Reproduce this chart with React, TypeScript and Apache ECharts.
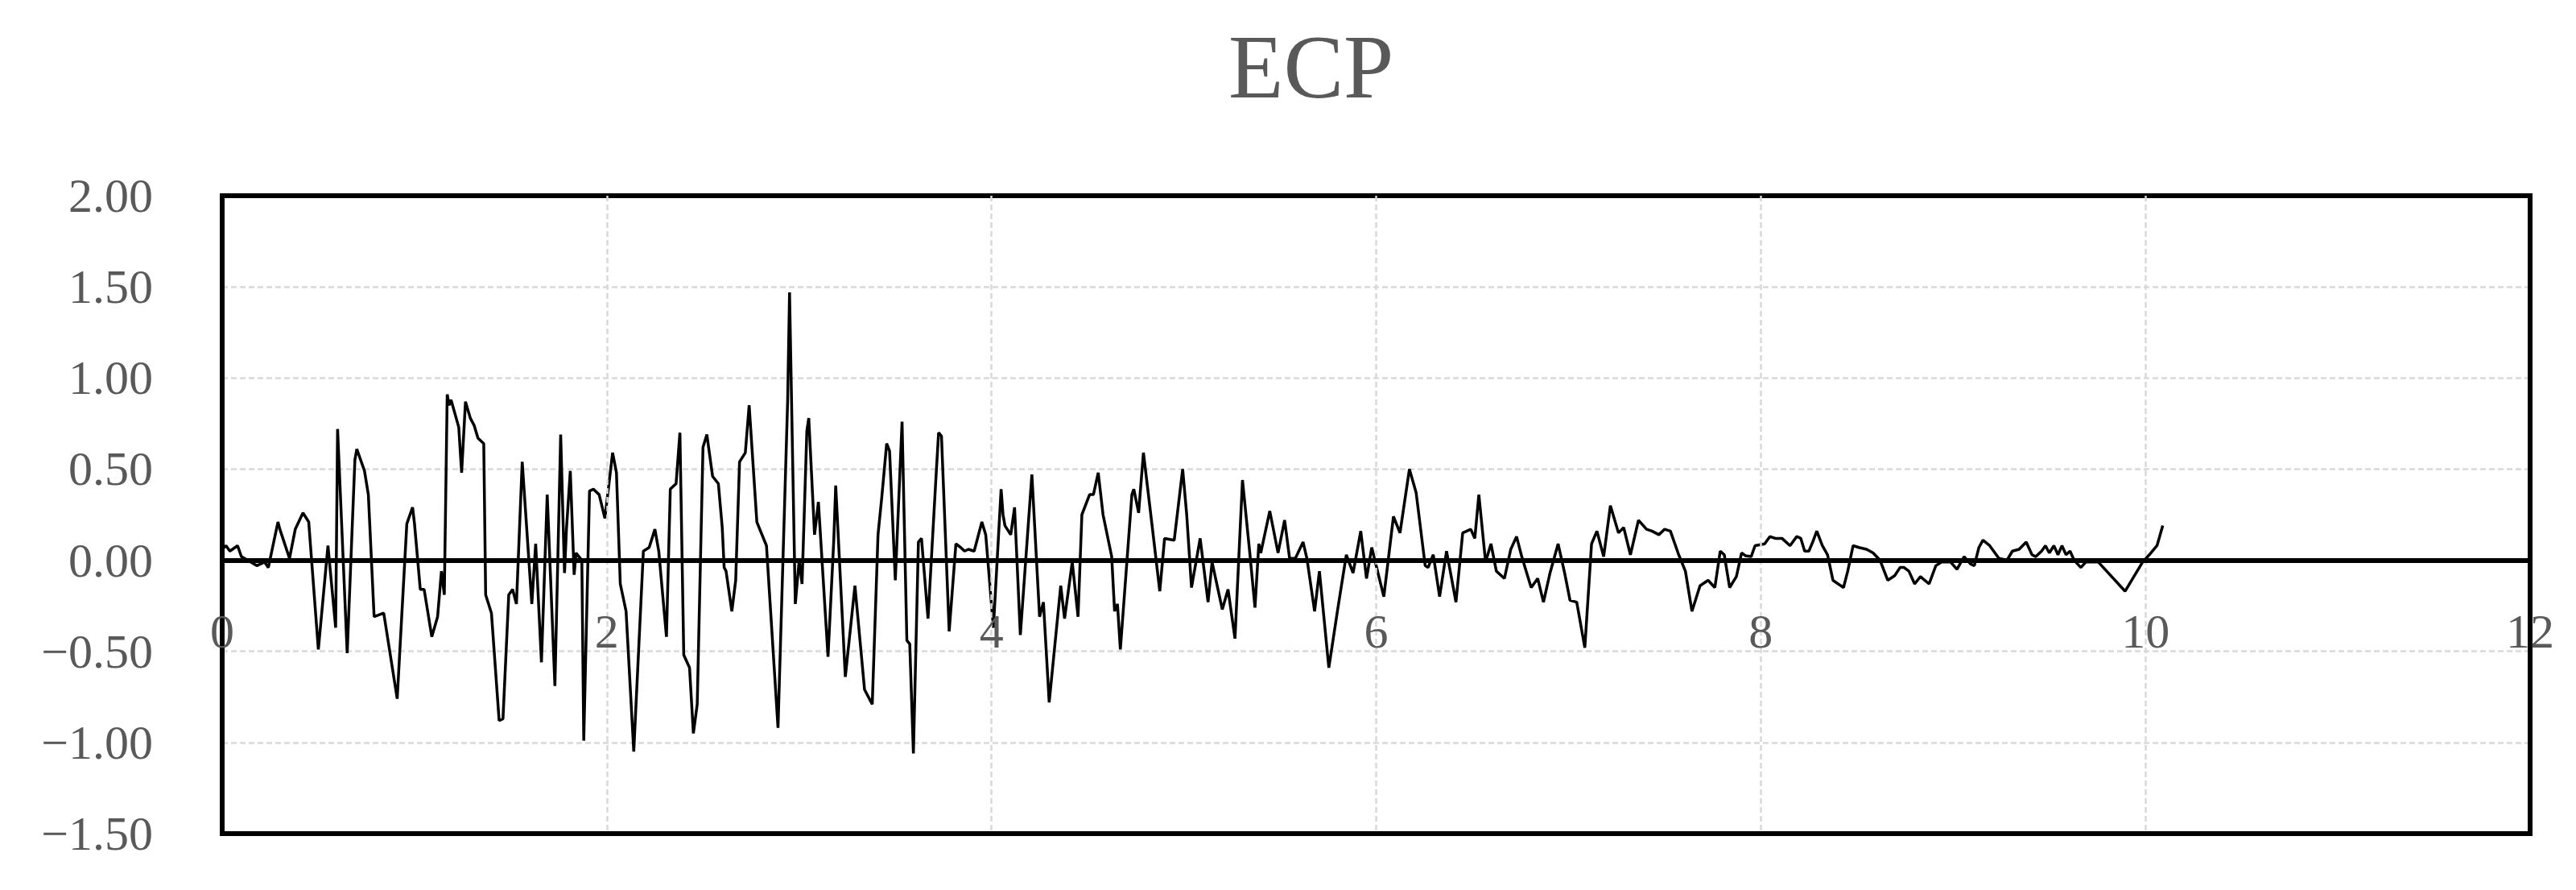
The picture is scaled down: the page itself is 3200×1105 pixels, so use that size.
import React, { useEffect, useRef } from "react";
import * as echarts from "echarts";

const chartTitle = "ECP";
const xTicks = [0, 2, 4, 6, 8, 10, 12];
const yTicks = [-1.5, -1.0, -0.5, 0.0, 0.5, 1.0, 1.5, 2.0];

const times: number[] = [
  0.0, 0.02, 0.04, 0.08, 0.1, 0.18, 0.22, 0.24, 0.29, 0.3, 0.35, 0.38, 0.42, 0.45, 0.5, 0.55, 0.59, 0.6, 0.65, 0.69,
  0.7, 0.74, 0.76, 0.79, 0.84, 0.91, 0.96, 0.99, 1.0, 1.03, 1.05, 1.09, 1.12, 1.14, 1.155, 1.17, 1.18, 1.19, 1.23, 1.245,
  1.265, 1.29, 1.31, 1.33, 1.36, 1.37, 1.4, 1.44, 1.46, 1.49, 1.51, 1.53, 1.56, 1.61, 1.63, 1.66, 1.69, 1.73, 1.76, 1.78,
  1.79, 1.81, 1.83, 1.84, 1.87, 1.88, 1.91, 1.93, 1.96, 1.99, 2.03, 2.05, 2.07, 2.1, 2.14, 2.19, 2.22, 2.25, 2.27, 2.31,
  2.33, 2.36, 2.38, 2.4, 2.43, 2.45, 2.47, 2.5, 2.52, 2.55, 2.58, 2.6, 2.61, 2.62, 2.65, 2.67, 2.69, 2.72, 2.74, 2.78,
  2.83, 2.89, 2.94, 2.95, 2.98, 3.0, 3.015, 3.04, 3.05, 3.08, 3.1, 3.15, 3.18, 3.19, 3.24, 3.29, 3.34, 3.38, 3.41, 3.43,
  3.455, 3.47, 3.5, 3.535, 3.56, 3.575, 3.594, 3.62, 3.636, 3.67, 3.71, 3.725, 3.74, 3.78, 3.815, 3.84, 3.86, 3.88, 3.91, 3.95,
  3.97, 4.01, 4.05, 4.06, 4.07, 4.1, 4.12, 4.15, 4.21, 4.25, 4.27, 4.3, 4.36, 4.38, 4.42, 4.45, 4.47, 4.51, 4.53, 4.555,
  4.58, 4.625, 4.64, 4.655, 4.67, 4.73, 4.74, 4.765, 4.79, 4.835, 4.875, 4.9, 4.95, 4.994, 5.015, 5.04, 5.085, 5.126, 5.147, 5.2,
  5.23, 5.266, 5.305, 5.343, 5.37, 5.39, 5.4, 5.447, 5.49, 5.524, 5.55, 5.58, 5.62, 5.64, 5.68, 5.705, 5.754, 5.8, 5.845, 5.88,
  5.92, 5.95, 5.977, 6.04, 6.09, 6.124, 6.173, 6.208, 6.255, 6.27, 6.297, 6.33, 6.366, 6.415, 6.45, 6.492, 6.513, 6.534, 6.569, 6.597,
  6.625, 6.667, 6.7, 6.73, 6.757, 6.806, 6.84, 6.87, 6.904, 6.946, 6.98, 7.008, 7.043, 7.085, 7.12, 7.148, 7.183, 7.218, 7.26, 7.287,
  7.322, 7.364, 7.406, 7.434, 7.47, 7.5, 7.53, 7.573, 7.608, 7.642, 7.684, 7.726, 7.761, 7.789, 7.81, 7.838, 7.873, 7.9, 7.92, 7.95,
  7.97, 8.02, 8.047, 8.075, 8.11, 8.152, 8.187, 8.208, 8.228, 8.25, 8.27, 8.291, 8.32, 8.347, 8.375, 8.43, 8.452, 8.48, 8.51, 8.55,
  8.584, 8.62, 8.66, 8.696, 8.724, 8.745, 8.77, 8.8, 8.83, 8.875, 8.91, 8.94, 8.987, 9.02, 9.057, 9.09, 9.11, 9.134, 9.155, 9.19,
  9.238, 9.28, 9.308, 9.343, 9.38, 9.41, 9.43, 9.46, 9.48, 9.5, 9.524, 9.545, 9.566, 9.587, 9.608, 9.629, 9.664, 9.69, 9.755, 9.894,
  9.985, 10.02, 10.06, 10.09,
];

const ecp: number[] = [
  0.06, 0.08, 0.05, 0.08, 0.02, -0.03, -0.01, -0.04, 0.21, 0.17, 0.01, 0.17, 0.26, 0.21, -0.49, 0.08, -0.37, 0.72, -0.51, 0.55,
  0.61, 0.49, 0.36, -0.31, -0.29, -0.76, 0.2, 0.29, 0.2, -0.16, -0.16, -0.42, -0.31, -0.06, -0.19, 0.91, 0.85, 0.88, 0.73, 0.48,
  0.87, 0.78, 0.74, 0.67, 0.64, -0.19, -0.29, -0.88, -0.87, -0.19, -0.16, -0.24, 0.54, -0.24, 0.09, -0.56, 0.36, -0.69, 0.69, -0.07,
  0.17, 0.49, -0.08, 0.04, 0.0, -0.99, 0.38, 0.39, 0.36, 0.23, 0.59, 0.48, -0.13, -0.28, -1.05, 0.05, 0.07, 0.17, 0.05, -0.42,
  0.39, 0.42, 0.7, -0.52, -0.59, -0.95, -0.79, 0.62, 0.69, 0.46, 0.42, 0.18, -0.04, -0.06, -0.28, -0.11, 0.54, 0.59, 0.85, 0.21,
  0.08, -0.92, 0.87, 1.47, -0.24, 0.0, -0.13, 0.71, 0.78, 0.14, 0.32, -0.53, 0.11, 0.41, -0.64, -0.14, -0.71, -0.79, 0.14, 0.35,
  0.64, 0.6, -0.11, 0.76, -0.44, -0.46, -1.06, 0.1, 0.12, -0.32, 0.43, 0.7, 0.68, -0.39, 0.09, 0.07, 0.05, 0.06, 0.05, 0.21,
  0.14, -0.37, 0.39, 0.25, 0.19, 0.14, 0.29, -0.41, 0.47, -0.31, -0.23, -0.78, -0.14, -0.32, -0.01, -0.31, 0.25, 0.36, 0.36, 0.48,
  0.25, 0.02, -0.28, -0.24, -0.49, 0.36, 0.39, 0.26, 0.59, 0.19, -0.17, 0.12, 0.11, 0.5, 0.25, -0.15, 0.12, -0.23, -0.01, -0.27,
  -0.16, -0.43, 0.44, 0.04, -0.26, 0.09, 0.04, 0.27, 0.04, 0.22, 0.01, 0.01, 0.1, 0.01, -0.28, -0.06, -0.59, -0.27, 0.03, -0.07,
  0.16, -0.1, 0.07, -0.2, 0.24, 0.15, 0.5, 0.37, -0.03, -0.04, 0.03, -0.2, 0.05, -0.23, 0.15, 0.17, 0.12, 0.36, -0.01, 0.09,
  -0.06, -0.1, 0.06, 0.13, 0.02, -0.15, -0.1, -0.23, -0.07, 0.09, -0.07, -0.22, -0.23, -0.48, 0.09, 0.16, 0.02, 0.3, 0.15, 0.18,
  0.03, 0.22, 0.17, 0.16, 0.14, 0.17, 0.16, 0.03, -0.06, -0.28, -0.14, -0.11, -0.15, 0.05, 0.03, -0.15, -0.09, 0.04, 0.025, 0.02,
  0.08, 0.09, 0.13, 0.12, 0.12, 0.08, 0.13, 0.12, 0.05, 0.05, 0.1, 0.16, 0.08, 0.03, -0.11, -0.15, -0.06, 0.08, 0.07, 0.06,
  0.04, 0.0, -0.11, -0.085, -0.04, -0.04, -0.06, -0.13, -0.09, -0.13, -0.03, -0.01, -0.01, -0.05, 0.02, -0.02, -0.03, 0.07, 0.11, 0.08,
  0.01, 0.0, 0.05, 0.06, 0.1, 0.03, 0.02, 0.05, 0.08, 0.04, 0.08, 0.03, 0.08, 0.03, 0.05, 0.0, -0.04, -0.01, -0.01, -0.17,
  -0.01, 0.03, 0.08, 0.19,
];

const labelFont = "'Liberation Serif', 'Times New Roman', serif";
const labelColor = "#595959";

const GRID_LEFT = 276;
const GRID_TOP = 243;
const GRID_RIGHT = 57;
const GRID_BOTTOM = 70;
const CHART_H = 1105;

export default function App() {
  const ref = useRef<HTMLDivElement>(null);

  useEffect(() => {
    if (!ref.current) return;
    const chart = echarts.init(ref.current, undefined, { renderer: "svg" });
    const points = times.map((t, i) => [t, ecp[i]]);
    const yMin = yTicks[0];
    const yMax = yTicks[yTicks.length - 1];
    const gridH = CHART_H - GRID_TOP - GRID_BOTTOM;
    // move the x axis up so that it crosses the y axis at 0
    const zeroOffset = -(gridH * (0 - yMin)) / (yMax - yMin);
    const fmtY = (v: number) => (v < 0 ? "\u2212" : "") + Math.abs(v).toFixed(2);
    const gridLine = { show: true, showMinLine: false, showMaxLine: false, lineStyle: { color: "#d9d9d9", width: 2.5, type: [7, 4] } };
    chart.setOption({
      animation: false,
      backgroundColor: "#ffffff",
      title: {
        text: chartTitle,
        left: 1521,
        top: 22,
        textStyle: {
          fontFamily: labelFont,
          fontSize: 112,
          fontWeight: "normal",
          color: labelColor,
        },
      },
      grid: {
        left: GRID_LEFT,
        top: GRID_TOP,
        right: GRID_RIGHT,
        bottom: GRID_BOTTOM,
        show: true,
        borderColor: "#000000",
        borderWidth: 6,
        backgroundColor: "transparent",
        z: 5,
      },
      xAxis: {
        type: "value",
        min: xTicks[0],
        max: xTicks[xTicks.length - 1],
        interval: 2,
        position: "bottom",
        offset: zeroOffset,
        z: 6,
        axisLine: { show: true, onZero: false, lineStyle: { color: "#000000", width: 6 } },
        axisTick: { show: false },
        axisLabel: {
          margin: 58,
          fontFamily: labelFont,
          fontSize: 60,
          color: labelColor,
          showMinLabel: true,
          showMaxLabel: true,
        },
        splitLine: gridLine,
      },
      yAxis: {
        type: "value",
        min: yMin,
        max: yMax,
        interval: 0.5,
        axisLine: { show: false },
        axisTick: { show: false },
        axisLabel: {
          margin: 86,
          fontFamily: labelFont,
          fontSize: 60,
          color: labelColor,
          formatter: fmtY,
        },
        splitLine: gridLine,
      },
      series: [
        {
          type: "line",
          data: points,
          showSymbol: false,
          symbol: "none",
          lineStyle: { color: "#000000", width: 3.5 },
          z: 3,
        },
      ],
    });
    return () => chart.dispose();
  }, []);

  return (
    <div
      ref={ref}
      style={{ position: "absolute", left: 0, top: 0, width: 3200, height: CHART_H, background: "#fff" }}
    />
  );
}
